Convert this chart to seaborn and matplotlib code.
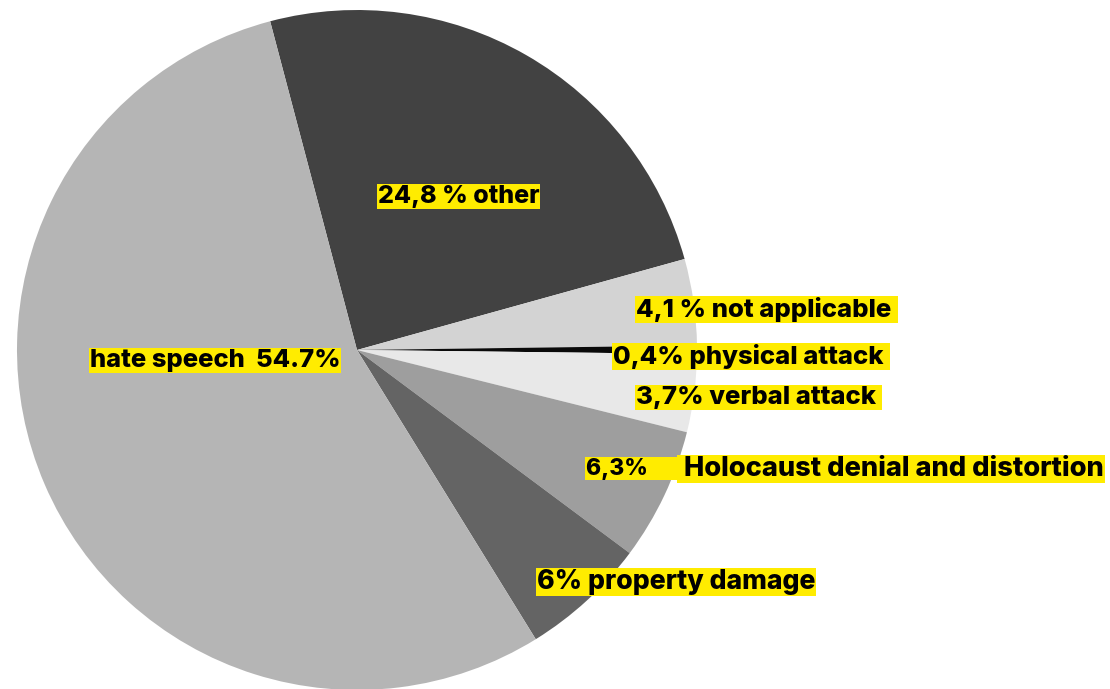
import matplotlib
matplotlib.use("Agg")
import matplotlib.pyplot as plt
import seaborn as sns

# slice data, clockwise from the top
categories = ["other", "not applicable", "physical attack", "verbal attack",
              "Holocaust denial and distortion", "property damage", "hate speech"]
shares = [24.8, 4.1, 0.4, 3.7, 6.3, 6.0, 54.7]
share_labels = ["24,8 % other", "4,1 % not applicable ", "0,4% physical attack ",
                "3,7% verbal attack ", "6,3%        |Holocaust denial and distortion",
                "6% property damage", "hate speech  54.7%"]
colors = ["#424242", "#d3d3d3", "#0a0a0a", "#e8e8e8", "#9e9e9e", "#646464", "#b5b5b5"]

sns.set_theme(style="white")
plt.rcParams["font.family"] = ["Inter", "DejaVu Sans"]

W, H = 1110, 689
CX, CY, R = 357, 350, 340  # pie centre / radius in pixels

fig = plt.figure(figsize=(W / 100, H / 100), dpi=100)
ax = fig.add_axes([0, 0, 1, 1])
ax.pie(shares, colors=colors, startangle=104.8, counterclock=False,
       radius=1, center=(0, 0), wedgeprops=dict(linewidth=0))
ax.set_xlim(-CX / R, (W - CX) / R)
ax.set_ylim(-(H - CY) / R, CY / R)
ax.set_aspect("equal")
ax.axis("off")


def px(x, y):
    return (x - CX) / R, (CY - y) / R


def label(text, x, y, size, z=3):
    ax.text(*px(x, y), text, ha="left", va="center_baseline", fontsize=size,
            fontweight="heavy", color="black", zorder=z,
            bbox=dict(facecolor="#ffec00", edgecolor="none", pad=0.5))


# label anchors (left edge, vertical centre) in pixels and font sizes
label_pos = [(378, 194), (636, 307), (613, 354), (636, 395),
             (586, 466), (537, 579), (90, 358)]
label_size = [18, 18.5, 18.5, 18.5, 16.5, 19.2, 18.4]
for text, (x, y), size in zip(share_labels, label_pos, label_size):
    if "|" in text:
        pct, name = text.split("|")
        label(pct, x, y, size, z=3)
        label(" " + name, 678, y, 19.6, z=4)
    else:
        label(text, x, y, size)

fig.savefig("out.png", dpi=100)
